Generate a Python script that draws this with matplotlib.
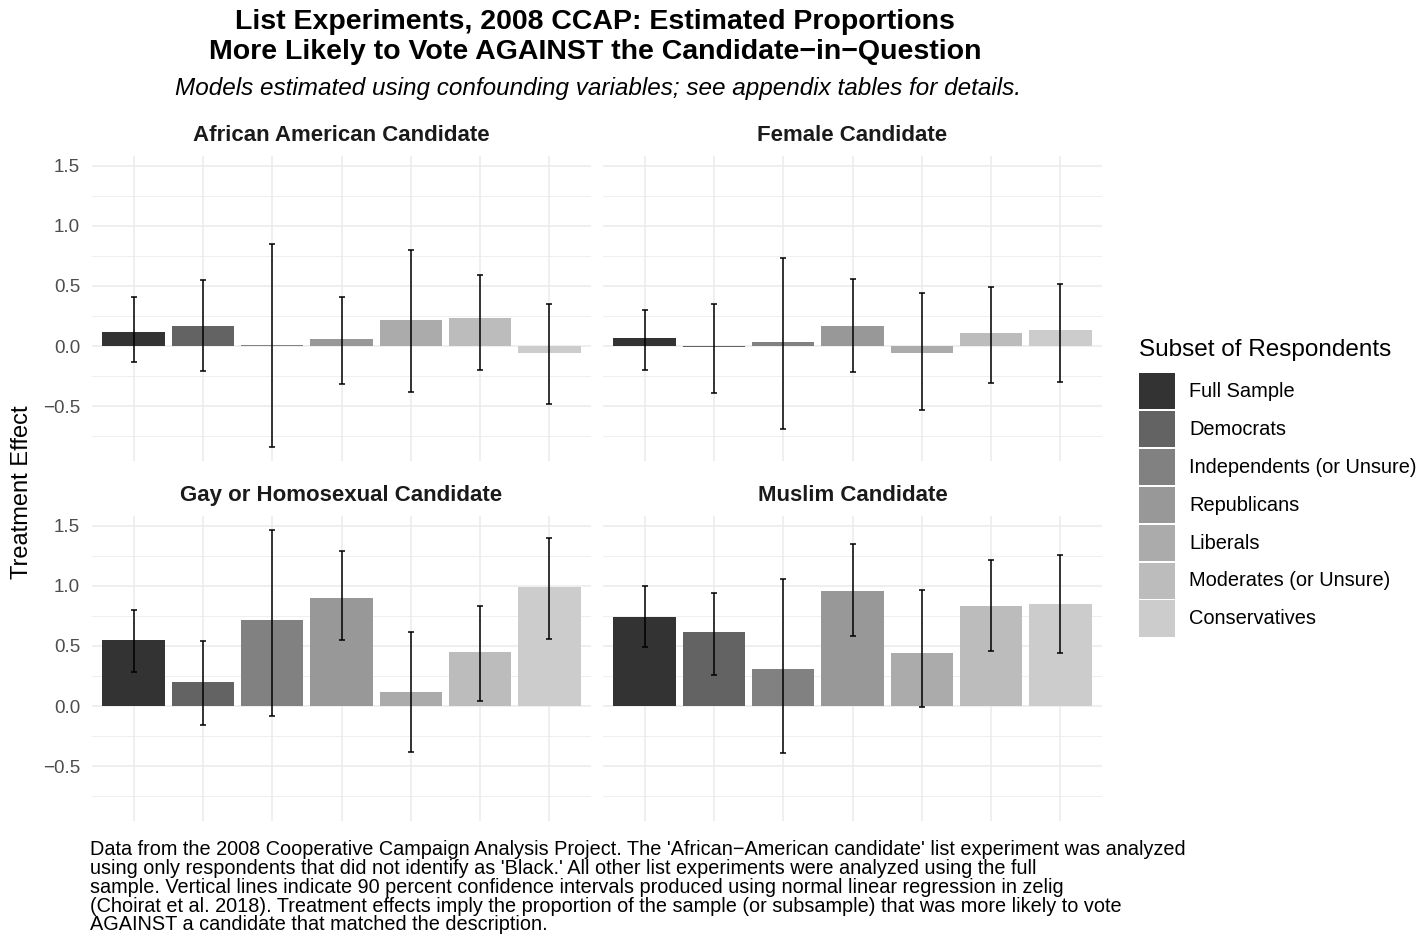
import matplotlib
matplotlib.use("Agg")
import matplotlib.pyplot as plt
from matplotlib.patches import Rectangle
import numpy as np

plt.rcParams['font.family'] = ['Liberation Sans', 'DejaVu Sans']

# ---- data -------------------------------------------------------------
subsets = ["Full Sample", "Democrats", "Independents (or Unsure)", "Republicans",
           "Liberals", "Moderates (or Unsure)", "Conservatives"]
fill_colors = ["#333333", "#636363", "#818181", "#989898", "#ABABAB", "#BCBCBC", "#CCCCCC"]

panels = ["African American Candidate", "Female Candidate",
          "Gay or Homosexual Candidate", "Muslim Candidate"]

african_american_est = [0.12, 0.163, 0.006, 0.055, 0.22, 0.23, -0.06]
african_american_lo = [-0.13, -0.21, -0.84, -0.32, -0.38, -0.20, -0.48]
african_american_hi = [0.41, 0.55, 0.85, 0.41, 0.80, 0.59, 0.35]

female_est = [0.064, -0.008, 0.03, 0.163, -0.06, 0.105, 0.13]
female_lo = [-0.20, -0.39, -0.69, -0.22, -0.53, -0.31, -0.30]
female_hi = [0.30, 0.354, 0.73, 0.56, 0.44, 0.49, 0.52]

gay_est = [0.552, 0.204, 0.718, 0.90, 0.12, 0.453, 0.99]
gay_lo = [0.287, -0.16, -0.08, 0.55, -0.38, 0.04, 0.56]
gay_hi = [0.80, 0.54, 1.47, 1.29, 0.62, 0.83, 1.40]

muslim_est = [0.743, 0.619, 0.312, 0.959, 0.445, 0.834, 0.851]
muslim_lo = [0.49, 0.26, -0.39, 0.58, -0.01, 0.46, 0.44]
muslim_hi = [1.00, 0.94, 1.06, 1.35, 0.97, 1.22, 1.26]

y_ticks = [-0.5, 0.0, 0.5, 1.0, 1.5]

panel_data = [
    (african_american_est, african_american_lo, african_american_hi),
    (female_est, female_lo, female_hi),
    (gay_est, gay_lo, gay_hi),
    (muslim_est, muslim_lo, muslim_hi),
]

title = ("List Experiments, 2008 CCAP: Estimated Proportions\n"
         "More Likely to Vote AGAINST the Candidate\u2212in\u2212Question")
subtitle = "Models estimated using confounding variables; see appendix tables for details."
caption = ("Data from the 2008 Cooperative Campaign Analysis Project. The 'African\u2212American candidate' list experiment was analyzed\n"
           "using only respondents that did not identify as 'Black.' All other list experiments were analyzed using the full\n"
           "sample. Vertical lines indicate 90 percent confidence intervals produced using normal linear regression in zelig\n"
           "(Choirat et al. 2018). Treatment effects imply the proportion of the sample (or subsample) that was more likely to vote\n"
           "AGAINST a candidate that matched the description.")

# ---- layout (pixels) --------------------------------------------------
W, H = 1419, 943
fig = plt.figure(figsize=(W / 100, H / 100), dpi=100)
fig.patch.set_facecolor("white")


def px_axes(x0, y0, x1, y1):
    return fig.add_axes([x0 / W, 1 - y1 / H, (x1 - x0) / W, (y1 - y0) / H])


panel_boxes = [(92, 155.7, 591, 460.7), (603, 155.7, 1102, 460.7),
               (92, 515.7, 591, 820.7), (603, 515.7, 1102, 820.7)]

# shared y range with 5% expansion, as in a fixed-scale facet grid
all_lo = min(min(d[1]) for d in panel_data)
all_hi = max(max(d[2]) for d in panel_data)
pad = 0.05 * (all_hi - all_lo)
ylim = (all_lo - pad, all_hi + pad)

x = np.arange(1, len(subsets) + 1)
grid_col = "#EBEBEB"

for i, (box, name, (est, lo, hi)) in enumerate(zip(panel_boxes, panels, panel_data)):
    ax = px_axes(*box)
    ax.set_xlim(0.4, len(subsets) + 0.6)
    ax.set_ylim(*ylim)
    for s in ax.spines.values():
        s.set_visible(False)
    ax.set_xticks(x)
    ax.set_xticklabels([])
    ax.set_yticks(y_ticks)
    ax.set_yticks([-0.75, -0.25, 0.25, 0.75, 1.25], minor=True)
    ax.tick_params(axis="both", which="both", length=0)
    ax.tick_params(axis="y", labelsize=13.5, labelcolor="#4D4D4D", pad=8.5)
    if i % 2 == 1:
        ax.set_yticklabels([])
    ax.grid(True, which="major", color=grid_col, linewidth=1.1)
    ax.grid(True, which="minor", axis="y", color=grid_col, linewidth=0.55)
    ax.set_axisbelow(True)

    ax.bar(x, est, width=0.9, color=fill_colors, zorder=2)
    est_a = np.array(est)
    yerr = np.vstack([est_a - np.array(lo), np.array(hi) - est_a])
    ax.errorbar(x, est_a, yerr=yerr, fmt="none", ecolor="black",
                elinewidth=1.1, capsize=2.4, capthick=1.1, zorder=3)

    cx = (box[0] + box[2]) / 2
    fig.text(cx / W, 1 - (box[1] - 20) / H, name, ha="center", va="center",
             fontsize=16, fontweight="bold", color="#1A1A1A")

# titles
fig.text(595 / W, 1 - 37 / H, title, ha="center", va="center",
         fontsize=20.5, fontweight="bold", color="black", linespacing=1.22)
fig.text(598 / W, 1 - 88 / H, subtitle, ha="center", va="center",
         fontsize=17.5, style="italic", color="black")

# y axis label
fig.text(22 / W, 1 - 492 / H, "Treatment Effect", rotation=90,
         ha="center", va="center", fontsize=17, color="black")

# caption
fig.text(90 / W, 1 - 840 / H, caption, ha="left", va="top",
         fontsize=14.35, color="black", linespacing=0.99)

# legend
fig.text(1139 / W, 1 - 350 / H, "Subset of Respondents", ha="left", va="center",
         fontsize=17.5, color="black")
key_top, key_h, key_w = 372.5, 37.9, 36
for k, (lab, col) in enumerate(zip(subsets, fill_colors)):
    y0 = key_top + k * key_h
    fig.patches.append(Rectangle((1139 / W, 1 - (y0 + key_h - 1) / H), key_w / W,
                                 (key_h - 1.5) / H, transform=fig.transFigure,
                                 facecolor=col, edgecolor="none"))
    fig.text(1189 / W, 1 - (y0 + key_h / 2) / H, lab, ha="left", va="center",
             fontsize=14.4, color="black")

fig.savefig("out.png", dpi=100, facecolor="white")
